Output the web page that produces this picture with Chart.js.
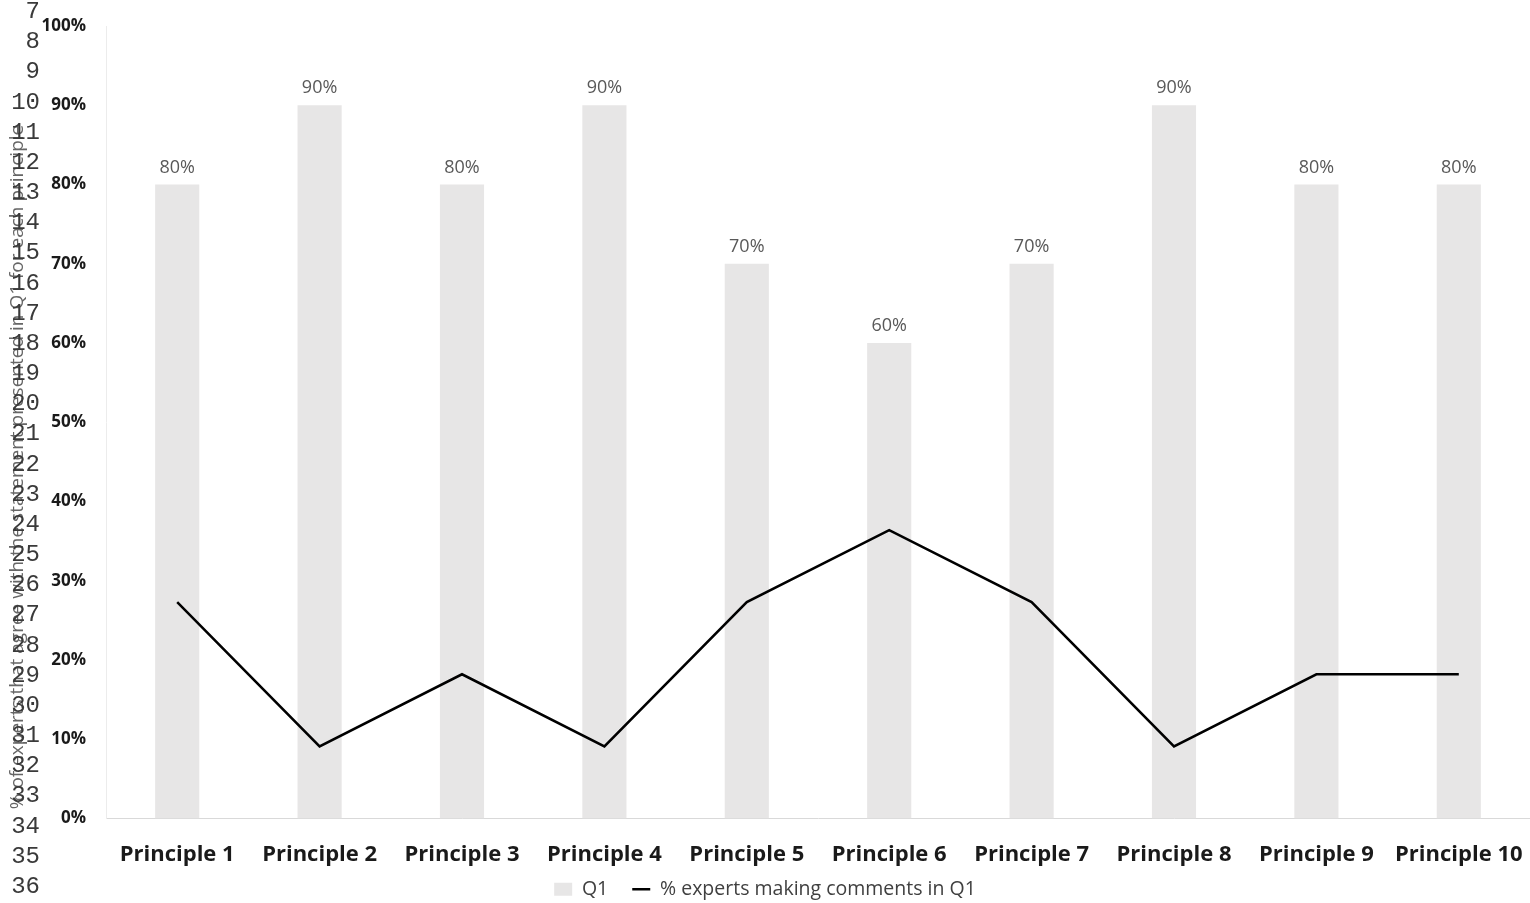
<!DOCTYPE html>
<html>
<head>
<meta charset="utf-8">
<script src="https://cdn.jsdelivr.net/npm/chart.js@4"></script>
<style>
  html, body { margin: 0; padding: 0; background: #fff; }
  #wrap { position: relative; width: 1530px; height: 903px; overflow: hidden; }
  #js-chart { position: absolute; left: 0; top: 0; }
  #js-lines {
    position: absolute; left: 0; top: -3px; width: 40px;
    font: 24px "Liberation Mono", monospace; line-height: 30.17px;
    color: #3a3a3a; text-align: right; white-space: pre;
  }
  #js-ytitle {
    position: absolute; left: 16px; top: 467px; width: 900px;
    margin-left: -450px; margin-top: -13px; text-align: center;
    font: 19px "Open Sans", sans-serif; color: #666; line-height: 26px;
    transform: rotate(-90deg);
  }
</style>
</head>
<body>
<div id="wrap">
  <canvas id="js-chart" width="1530" height="903"></canvas>
  <div id="js-ytitle">% of experts that agree with the statement presented in Q1 for each principle</div>
  <div id="js-lines"></div>
</div>
<script>
const categories = ["Principle 1", "Principle 2", "Principle 3", "Principle 4", "Principle 5",
  "Principle 6", "Principle 7", "Principle 8", "Principle 9", "Principle 10"];
// % experts agreeing (bars)
const agreeValues = [80, 90, 80, 90, 70, 60, 70, 90, 80, 80];
// % experts making comments (line)
const commentValues = [27.3, 9.1, 18.2, 9.1, 27.3, 36.4, 27.3, 9.1, 18.2, 18.2];
const yTicks = [0, 10, 20, 30, 40, 50, 60, 70, 80, 90, 100];
const lineNumbers = [7, 8, 9, 10, 11, 12, 13, 14, 15, 16, 17, 18, 19, 20, 21, 22,
  23, 24, 25, 26, 27, 28, 29, 30, 31, 32, 33, 34, 35, 36];

document.getElementById("js-lines").textContent = lineNumbers.join("\n");

// value labels above the bars
const barLabels = {
  id: "barLabels",
  afterDatasetsDraw(chart) {
    const ctx = chart.ctx;
    const meta = chart.getDatasetMeta(0);
    ctx.save();
    ctx.font = "18px 'Open Sans', sans-serif";
    ctx.fillStyle = "#595959";
    ctx.textAlign = "center";
    ctx.textBaseline = "middle";
    meta.data.forEach((bar, i) => {
      ctx.fillText(agreeValues[i] + "%", bar.x, bar.y - 17);
    });
    ctx.restore();
  },
};

// x tick labels are clipped to the scale box; let them run into the legend band
const xLabelRoom = {
  id: "xLabelRoom",
  afterLayout(chart) {
    chart.scales.x.bottom = chart.height;
  },
};

new Chart(document.getElementById("js-chart"), {
  type: "bar",
  data: {
    labels: categories,
    datasets: [
      {
        type: "bar",
        label: "Q1",
        data: agreeValues,
        backgroundColor: "#e7e6e6",
        borderWidth: 0,
        barPercentage: 0.31,
        categoryPercentage: 1,
        pointStyle: "rect",
        order: 2,
      },
      {
        type: "line",
        label: "% experts making comments in Q1",
        data: commentValues,
        borderColor: "#000",
        backgroundColor: "#000",
        borderWidth: 2.5,
        pointRadius: 0,
        tension: 0,
        pointStyle: "line",
        order: 1,
      },
    ],
  },
  options: {
    responsive: false,
    animation: false,
    layout: { padding: { top: 26, right: 0, left: 0, bottom: -6 } },
    plugins: {
      tooltip: { enabled: false },
      legend: {
        position: "bottom",
        labels: {
          usePointStyle: true,
          pointStyleWidth: 18,
          boxHeight: 13,
          padding: 24,
          color: "#404040",
          font: { family: "'Open Sans', sans-serif", size: 19.5 },
          sort: (a, b) => a.datasetIndex - b.datasetIndex,
        },
      },
    },
    scales: {
      x: {
        grid: { display: false, drawTicks: false },
        border: { display: true, color: "#d9d9d9", width: 1 },
        ticks: {
          padding: 23,
          color: "#1a1a1a",
          font: { family: "'Open Sans', sans-serif", size: 22, weight: "bold" },
          maxRotation: 0,
        },
        afterFit(scale) {
          scale.height = 37;
          scale.paddingLeft = 0;
          scale.paddingRight = 0;
        },
      },
      y: {
        min: 0,
        max: 100,
        afterBuildTicks(scale) { scale.ticks = yTicks.map((v) => ({ value: v })); },
        grid: { display: false, drawTicks: false },
        border: { display: true, color: "#ececec", width: 1 },
        ticks: {
          padding: 20,
          color: "#1a1a1a",
          font: { family: "'Open Sans', sans-serif", size: 17, weight: "bold" },
          callback: (v) => v + "%",
        },
        afterFit(scale) {
          scale.width = 106;
          scale.paddingTop = 0;
          scale.paddingBottom = 0;
        },
      },
    },
  },
  plugins: [barLabels, xLabelRoom],
});
</script>
</body>
</html>
